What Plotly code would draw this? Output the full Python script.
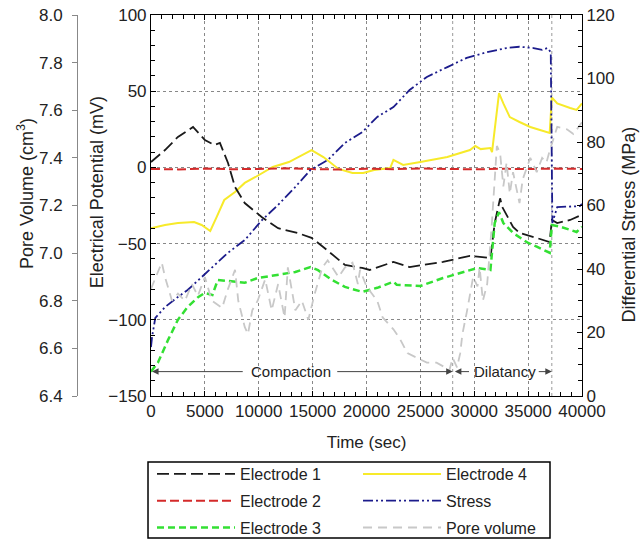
import plotly.graph_objects as go

# ---------------- data ----------------
t_e1 = [0, 1300, 2500, 3900, 5000, 5900, 6400, 7150, 7800, 8700, 10300, 11800, 13600, 14900,
        16100, 18000, 19600, 20300, 22500, 24000, 27100, 29600, 31500, 31900, 32400, 32600,
        33600, 34200, 35800, 37000, 37200, 37700, 38900, 40000]
e1 = [3.5, 11.4, 20, 26.5, 18, 14.7, 16, 2.9, -12.9, -23.4, -32.7, -39.9, -43, -46.2,
      -52.9, -64, -66, -67.3, -62, -65.4, -62, -58, -59.4, -36.5, -20.3, -26,
      -39, -43, -46.3, -49, -34.5, -36.5, -34.5, -31]

t_e2 = [0, 2500, 5000, 7500, 10000, 12500, 15000, 17500, 20000, 22500, 25000, 27500,
        30000, 32500, 35000, 37500, 40000]
e2 = [-1, -1.3, -0.8, -1.2, -1, -0.6, -1.1, -1.4, -0.9, -1.2, -0.7, -1,
      -1.3, -0.9, -1.1, -0.8, -1]

t_e3 = [0, 650, 1600, 2500, 3400, 4400, 5000, 5700, 6200, 7500, 8700, 9900, 11800, 13400,
        14800, 15500, 16800, 18000, 19600, 21000, 22500, 22800, 25000, 27100, 28700, 30300,
        31500, 31900, 32300, 32700, 33600, 35000, 35800, 37000, 37200, 38000, 38900, 39500, 40000]
e3 = [-134, -128, -113, -100, -91.6, -85, -82.4, -83.7, -73.8, -75, -75.7, -72.6, -70.6, -68.6,
      -65.4, -67.4, -73.9, -78.4, -81.7, -79, -75, -77, -77.8, -72.6, -69.3, -66,
      -67.3, -36.5, -29.4, -36.5, -43, -49.6, -52, -56, -37.8, -39, -41, -42.4, -39]

t_e4 = [0, 1300, 2500, 4000, 4700, 5500, 6100, 6800, 7800, 8700, 9700, 11300, 12800, 14100,
        14900, 16000, 17400, 18700, 19700, 20700, 22200, 22500, 23400, 25000, 27500, 29600,
        30100, 30600, 31500, 31650, 32300, 32700, 33300, 34200, 35200, 36100, 37000, 37200,
        37700, 38900, 39500, 40000]
e4 = [-40, -37.8, -36.5, -35.8, -37.8, -41.7, -32.5, -21.4, -16.1, -10.2, -6.3, 0.3, 3.5, 8.1,
      11.4, 6.8, -1, -3.7, -3.7, -1.7, -0.4, 4.9, 1.6, 3.5, 6.8, 11.4,
      14, 12, 12.7, 10, 48.8, 42, 33, 29.8, 26.5, 24.5, 22.6, 46,
      42, 39, 37.7, 42]

t_stress = [0, 100, 400, 1300, 2500, 3400, 4400, 5700, 7100, 8700, 10300, 11800, 13300, 14800,
            16400, 18000, 19600, 21000, 22500, 24000, 25600, 27500, 29300, 31200, 33000, 34200,
            35500, 36300, 36800, 37100, 37250, 37700, 39800, 40000]
stress = [15.4, 18.6, 24.6, 28, 31.2, 33.4, 36.5, 40.6, 45, 49.1, 55.4, 60.2, 65.5, 71.2,
          74.3, 79.7, 83.1, 87.9, 91, 96.4, 100.5, 103.6, 106.5, 108.3, 109.6, 110,
          109.6, 109, 109.6, 108.3, 54.5, 59.5, 59.8, 60.5]

t_pore = [0, 1000, 1300, 1950, 2500, 3150, 3800, 4350, 5000, 5650, 6600, 7150, 7800, 8100,
          8700, 9000, 9400, 9900, 10600, 11200, 11800, 12400, 12700, 13400, 14000, 14600,
          15200, 15900, 16400, 17400, 18000, 18700, 19200, 19400, 20000, 21000, 21500, 22500,
          23100, 23800, 24700, 25600, 26500, 27700, 28000, 28400, 28700, 28900, 29300, 29600,
          29900, 30300, 30500, 30800, 31200, 31600, 31900, 32100, 32400, 32700, 33000, 33300,
          33600, 34200, 34500, 35200, 35800, 36300, 36700, 37000, 37700, 38600, 39200, 40000]
pore = [6.85, 6.96, 6.90, 6.80, 6.83, 6.80, 6.87, 6.82, 6.90, 6.80, 6.77, 6.85, 6.93, 6.80,
        6.69, 6.66, 6.76, 6.80, 6.89, 6.76, 6.87, 6.73, 6.94, 6.76, 6.80, 6.72,
        6.83, 6.94, 6.97, 6.90, 6.94, 6.96, 6.87, 6.93, 6.86, 6.80, 6.73, 6.68,
        6.64, 6.58, 6.56, 6.54, 6.54, 6.51, 6.56, 6.52, 6.58, 6.66, 6.75, 6.83,
        6.90, 6.86, 6.94, 6.80, 6.87, 7.10, 7.34, 7.45, 7.42, 7.28, 7.38, 7.25,
        7.34, 7.21, 7.31, 7.40, 7.34, 7.40, 7.38, 7.43, 7.53, 7.52, 7.50, 7.55]

phase_bounds = [28000, 37200]          # Compaction -> Dilatancy, end of Dilatancy
phase_label_y = -134                  # mV level of the phase arrows
compaction_label_t = 13000
dilatancy_label_t = 32850
compaction_arrows = [(100, 8700), (28000, 17100)]   # (head, tail)
dilatancy_arrows = [(28200, 29700), (37200, 35800)]

FONT = "Liberation Sans, Arial, sans-serif"

fig = go.Figure()

fig.add_trace(go.Scatter(x=t_pore, y=pore, yaxis="y3", mode="lines", name="Pore volume",
                         line=dict(color="#c8c8c8", width=1.8, dash="9px,6px"),
                         legend="legend2", legendgroup="g6", legendrank=3))
fig.add_trace(go.Scatter(x=t_e4, y=e4, mode="lines", name="Electrode 4",
                         line=dict(color="#f7ea2a", width=2),
                         legend="legend2", legendgroup="g4", legendrank=1))
fig.add_trace(go.Scatter(x=t_stress, y=stress, yaxis="y2", mode="lines", name="Stress",
                         line=dict(color="#1c1c8c", width=1.8, dash="10px,3px,2px,3px,2px,3px"),
                         legend="legend2", legendgroup="g5", legendrank=2))
fig.add_trace(go.Scatter(x=t_e1, y=e1, mode="lines", name="Electrode 1",
                         line=dict(color="#1a1a1a", width=1.8, dash="12px,5px"),
                         legend="legend", legendgroup="g1", legendrank=1))
fig.add_trace(go.Scatter(x=t_e3, y=e3, mode="lines", name="Electrode 3",
                         line=dict(color="#33e033", width=2.5, dash="7px,4px"),
                         legend="legend", legendgroup="g3", legendrank=3))
fig.add_trace(go.Scatter(x=t_e2, y=e2, mode="lines", name="Electrode 2",
                         line=dict(color="#d42a2a", width=2, dash="9px,4px"),
                         legend="legend", legendgroup="g2", legendrank=2))

shapes = []
for b in phase_bounds:
    shapes.append(dict(type="line", xref="x", yref="paper", x0=b, x1=b, y0=0, y1=1,
                       line=dict(color="#999999", width=1, dash="dot"), layer="below"))
# legend frame
shapes.append(dict(type="rect", xref="paper", yref="paper", x0=0.1686, x1=0.9387,
                   y0=-0.3727, y1=-0.1732, line=dict(color="black", width=1.5)))

title_font = dict(size=18, color="#222")
annotations = [
    dict(x=compaction_label_t, y=phase_label_y, xref="x", yref="y", text="Compaction",
         showarrow=False, font=dict(size=15, color="#222")),
    dict(x=dilatancy_label_t, y=phase_label_y, xref="x", yref="y", text="Dilatancy",
         showarrow=False, font=dict(size=15, color="#222")),
    # axis titles
    dict(x=0.0709, y=0.535, xref="paper", yref="paper", text="Electrical Potential (mV)",
         textangle=-90, showarrow=False, xanchor="center", yanchor="middle", font=title_font),
    dict(x=-0.067, y=0.53, xref="paper", yref="paper", text="Pore Volume (cm<sup>3</sup>)",
         textangle=-90, showarrow=False, xanchor="center", yanchor="middle", font=title_font),
    dict(x=1.090, y=0.45, xref="paper", yref="paper", text="Differential Stress (MPa)",
         textangle=-90, showarrow=False, xanchor="center", yanchor="middle", font=title_font),
]
for head, tail in compaction_arrows + dilatancy_arrows:
    annotations.append(dict(x=head, y=phase_label_y, ax=tail, ay=phase_label_y,
                            xref="x", yref="y", axref="x", ayref="y", text=" ",
                            showarrow=True, arrowhead=2, arrowsize=1.3, arrowwidth=1,
                            arrowcolor="#444", font=dict(size=2)))

axis_common = dict(showline=True, linecolor="black", linewidth=1, zeroline=False,
                   automargin=False,
                   tickfont=dict(size=17, color="#222", family=FONT))

fig.update_layout(
    width=640, height=541,
    margin=dict(l=60, r=58, t=15, b=145, autoexpand=False),
    paper_bgcolor="white", plot_bgcolor="white",
    font=dict(family=FONT, color="#222"),
    showlegend=True,
    xaxis=dict(domain=[0.1743, 1], range=[0, 40000], dtick=5000, tickformat="d",
               ticks="inside", ticklen=5, tickcolor="black", mirror="ticks",
               minor=dict(ticks="inside", dtick=1000, ticklen=4, tickcolor="black", showgrid=False),
               showgrid=True, gridcolor="#888888", griddash="dot", gridwidth=1,
               title=dict(text="Time (sec)", font=dict(size=17, color="#222")),
               **axis_common),
    yaxis=dict(range=[-150, 100], dtick=50, ticks="inside", ticklen=5, tickcolor="black",
               minor=dict(ticks="inside", dtick=10, ticklen=4, tickcolor="black", showgrid=False),
               showgrid=True, gridcolor="#888888", griddash="dot", gridwidth=1,
               **axis_common),
    yaxis2=dict(overlaying="y", side="right", anchor="x", range=[0, 120], dtick=20,
                ticks="inside", ticklen=5, tickcolor="black",
                minor=dict(ticks="inside", dtick=5, ticklen=4, tickcolor="black", showgrid=False),
                showgrid=False,
                **axis_common),
    yaxis3=dict(overlaying="y", side="left", anchor="free", position=0.0326,
                range=[6.4, 8.0], dtick=0.2, tickformat=".1f", ticks="outside", ticklen=5,
                tickcolor="#888", showline=True, linecolor="#888", linewidth=1, zeroline=False,
                showgrid=False, automargin=False, ticklabelstandoff=6,
                tickfont=dict(size=17, color="#222", family=FONT)),
    legend=dict(xref="container", yref="container", x=0.2375, y=0.1553,
                xanchor="left", yanchor="top", bgcolor="rgba(0,0,0,0)",
                font=dict(size=16, color="#222"), itemwidth=78, traceorder="grouped",
                tracegroupgap=3),
    legend2=dict(xref="container", yref="container", x=0.5594, y=0.1553,
                 xanchor="left", yanchor="top", bgcolor="rgba(0,0,0,0)",
                 font=dict(size=16, color="#222"), itemwidth=78, traceorder="grouped",
                 tracegroupgap=3),
    shapes=shapes,
    annotations=annotations,
)

fig.write_html("out.html", config={"displayModeBar": False},
               post_script="document.body.style.margin='0';document.body.style.overflow='hidden';")
